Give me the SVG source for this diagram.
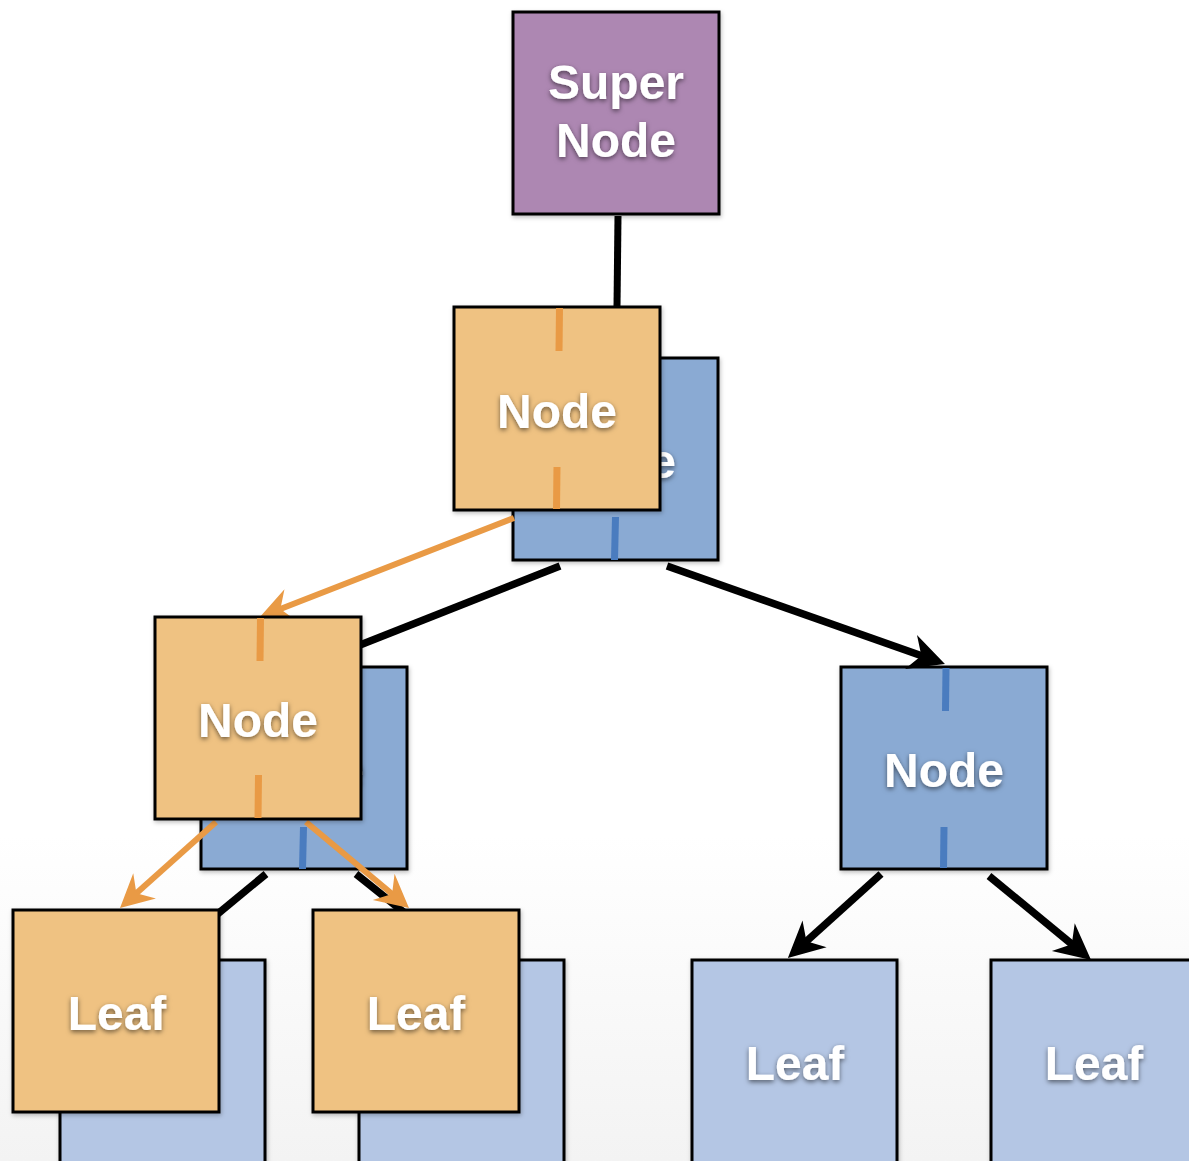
<svg xmlns="http://www.w3.org/2000/svg" width="1189" height="1161" viewBox="0 0 1189 1161">
<defs>
<linearGradient id="bg" x1="0" y1="0" x2="0" y2="1">
<stop offset="0" stop-color="#ffffff"/>
<stop offset="0.72" stop-color="#ffffff"/>
<stop offset="1" stop-color="#f3f3f3"/>
</linearGradient>
<filter id="ts" x="-20%" y="-30%" width="140%" height="170%">
<feDropShadow dx="0" dy="2" stdDeviation="2.5" flood-color="#000" flood-opacity="0.55"/>
</filter>
<filter id="bs" x="-10%" y="-10%" width="125%" height="125%">
<feDropShadow dx="1" dy="2" stdDeviation="2" flood-color="#000" flood-opacity="0.25"/>
</filter>
<marker id="ahk" markerUnits="userSpaceOnUse" markerWidth="56" markerHeight="56" viewBox="-28 -28 56 56" refX="0" refY="0" orient="auto">
<path d="M15,0 L-21,-18 L-10,0 L-21,18 Z" fill="#000"/>
</marker>
<marker id="aho" markerUnits="userSpaceOnUse" markerWidth="56" markerHeight="56" viewBox="-28 -28 56 56" refX="0" refY="0" orient="auto">
<path d="M13,0 L-20,-17 L-9,0 L-20,17 Z" fill="#e99a45"/>
</marker>
</defs>
<style>
.box{stroke:#000;stroke-width:3;filter:url(#bs)}
.purple{fill:#ad87b2}
.orange{fill:#efc282}
.blue{fill:#8aaad3}
.lblue{fill:#b4c6e4}
.lbl{font-family:"Liberation Sans",Arial,sans-serif;font-weight:bold;font-size:48px;fill:#fff;text-anchor:middle;filter:url(#ts)}
.tko{stroke:#e99a45;stroke-width:7;fill:none}
.tkb{stroke:#4a7cbf;stroke-width:7;fill:none}
.ck{stroke:#000;stroke-width:7.5;fill:none;marker-end:url(#ahk)}
.ckn{stroke:#000;stroke-width:7;fill:none}
.co{stroke:#e99a45;stroke-width:6;fill:none;marker-end:url(#aho)}
</style>
<rect x="0" y="0" width="1189" height="1161" fill="url(#bg)"/>

<g id="super-node">
<rect class="box purple" x="513" y="12" width="206" height="202"/>
<text class="lbl" x="616" y="99">Super</text>
<text class="lbl" x="616" y="157">Node</text>
</g>

<g id="node-top-blue">
<rect class="box blue" x="513" y="358" width="205" height="202"/>
<line class="tkb" x1="615.5" y1="517" x2="614.5" y2="560"/>
<text class="lbl" x="616" y="478">Node</text>
</g>

<g id="node-mid-blue">
<rect class="box blue" x="201" y="667" width="206" height="202"/>
<line class="tkb" x1="303.5" y1="827" x2="302.5" y2="869"/>
<text class="lbl" x="304" y="787">Node</text>
</g>

<g id="node-right">
<rect class="box blue" x="841" y="667" width="206" height="202"/>
<line class="tkb" x1="946" y1="668" x2="945.5" y2="711"/>
<line class="tkb" x1="944" y1="827" x2="943.5" y2="868"/>
<text class="lbl" x="944" y="787">Node</text>
</g>

<g id="leaf-blue-1">
<rect class="box lblue" x="60" y="960" width="205" height="215"/>
</g>
<g id="leaf-blue-2">
<rect class="box lblue" x="359" y="960" width="205" height="215"/>
</g>
<g id="leaf-blue-3">
<rect class="box lblue" x="692" y="960" width="205" height="215"/>
<text class="lbl" x="795" y="1080">Leaf</text>
</g>
<g id="leaf-blue-4">
<rect class="box lblue" x="991" y="960" width="206" height="215"/>
<text class="lbl" x="1094" y="1080">Leaf</text>
</g>

<g id="connectors">
<line class="ckn" x1="618" y1="216" x2="617" y2="307"/>
<line class="ck" x1="560" y1="566" x2="317" y2="662"/>
<line class="ck" x1="667" y1="566" x2="930.8" y2="659"/>
<line class="ck" x1="266" y1="874" x2="174" y2="950"/>
<line class="ck" x1="356" y1="874" x2="451" y2="950"/>
<line class="ck" x1="881" y1="874" x2="799" y2="948"/>
<line class="ck" x1="989" y1="876" x2="1079.5" y2="950.5"/>
<line class="co" x1="514" y1="518" x2="272" y2="612.3"/>
<line class="co" x1="216" y1="822" x2="129.7" y2="899.3"/>
<line class="co" x1="306" y1="822" x2="399" y2="899.7"/>
</g>

<g id="node-top-orange">
<rect class="box orange" x="454" y="307" width="206" height="203"/>
<line class="tko" x1="559.5" y1="308" x2="559" y2="351"/>
<line class="tko" x1="557" y1="467" x2="556.5" y2="509"/>
<text class="lbl" x="557" y="428">Node</text>
</g>

<g id="node-mid-orange">
<rect class="box orange" x="155" y="617" width="206" height="202"/>
<line class="tko" x1="260.5" y1="618" x2="260" y2="661"/>
<line class="tko" x1="258.5" y1="775" x2="258" y2="818"/>
<text class="lbl" x="258" y="737">Node</text>
</g>

<g id="leaf-orange-1">
<rect class="box orange" x="13" y="910" width="206" height="202"/>
<text class="lbl" x="117" y="1030">Leaf</text>
</g>
<g id="leaf-orange-2">
<rect class="box orange" x="313" y="910" width="206" height="202"/>
<text class="lbl" x="416" y="1030">Leaf</text>
</g>
</svg>
